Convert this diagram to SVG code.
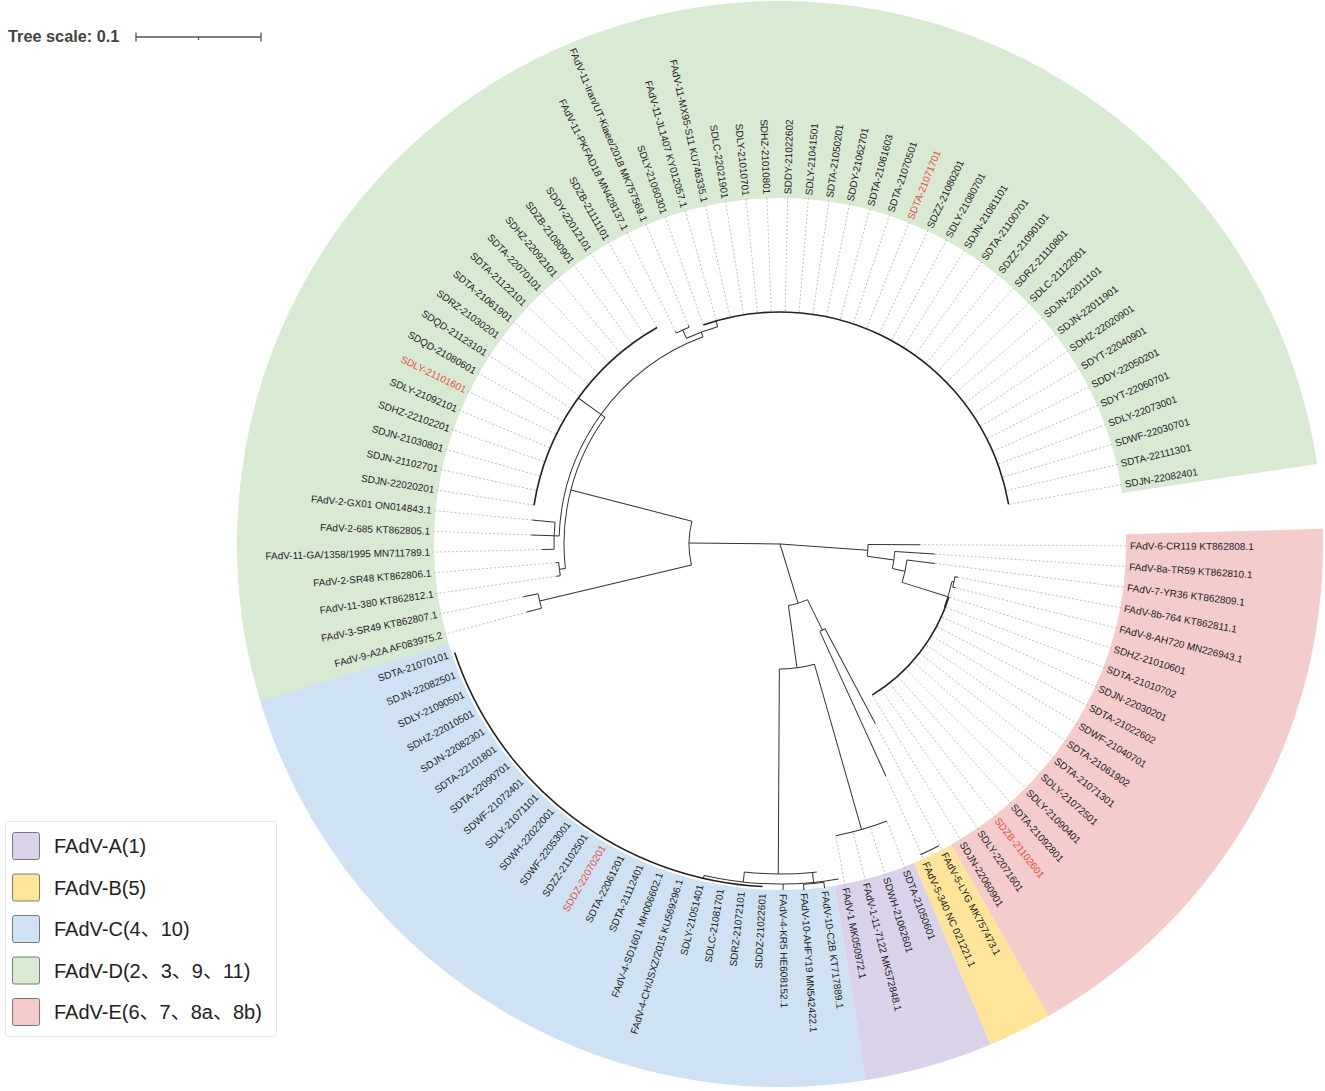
<svg xmlns="http://www.w3.org/2000/svg" width="1325" height="1091" viewBox="0 0 1325 1091">
<style>
text{font-family:"Liberation Sans",Arial,"Noto Sans CJK SC",sans-serif;}
.t{font-size:10px;fill:#222;}
.f{text-anchor:end;}
.red{fill:#e84b3c;}
.rg{fill:none;stroke-width:197;}
#branches line,#branches circle{stroke:#333;stroke-width:1;fill:none;}
#branches .cb{stroke:#222;stroke-width:1.6;}
#dashes line{stroke:#b4b4b4;stroke-width:0.8;stroke-dasharray:2 2;}
.lg{font-size:20px;fill:#222;}
.sw{stroke:#7a7a7a;stroke-width:1;}
</style>
<rect width="1325" height="1091" fill="#fff"/>
<g id="scale">
<text x="8" y="42" font-size="16.3" font-weight="bold" fill="#444">Tree scale: 0.1</text>
<path d="M136 37H261M136 32.5V41.5M261 32.5V41.5M198.5 37V40" stroke="#555" stroke-width="1.3" fill="none"/>
</g>
<g transform="translate(780,544)">
<g id="ranges">
<circle class="rg" r="444.5" stroke="#f4cccc" stroke-dasharray="480.6 3000" transform="rotate(-1.6)"/>
<circle class="rg" r="444.5" stroke="#ffe599" stroke-dasharray="53.3 3000" transform="rotate(60.35)"/>
<circle class="rg" r="444.5" stroke="#d9d2e9" stroke-dasharray="106.4 3000" transform="rotate(67.2)"/>
<circle class="rg" r="444.5" stroke="#cfe2f3" stroke-dasharray="638.6 3000" transform="rotate(80.9)"/>
<circle class="rg" r="444.5" stroke="#d9ead3" stroke-dasharray="1460.8 3000" transform="rotate(163.2)"/>
</g>
<g id="connectors">
<g id="dashes">
<line x1="140" x2="348" transform="rotate(0.3)"/>
<line x1="155" x2="348" transform="rotate(3.73)"/>
<line x1="156" x2="348" transform="rotate(7.16)"/>
<line x1="181" x2="348" transform="rotate(10.59)"/>
<line x1="181" x2="348" transform="rotate(14.02)"/>
<line x1="178" x2="348" transform="rotate(17.45)"/>
<line x1="178" x2="348" transform="rotate(20.88)"/>
<line x1="178" x2="348" transform="rotate(24.31)"/>
<line x1="178" x2="348" transform="rotate(27.74)"/>
<line x1="178" x2="348" transform="rotate(31.17)"/>
<line x1="178" x2="348" transform="rotate(34.6)"/>
<line x1="178" x2="348" transform="rotate(38.03)"/>
<line x1="178" x2="348" transform="rotate(41.46)"/>
<line x1="178" x2="348" transform="rotate(44.89)"/>
<line x1="178" x2="348" transform="rotate(48.32)"/>
<line x1="178" x2="348" transform="rotate(51.75)"/>
<line x1="178" x2="348" transform="rotate(55.18)"/>
<line x1="178" x2="348" transform="rotate(58.61)"/>
<line x1="203" x2="348" transform="rotate(62.04)"/>
<line x1="255" x2="348" transform="rotate(65.47)"/>
<line x1="298" x2="348" transform="rotate(68.9)"/>
<line x1="298" x2="348" transform="rotate(72.33)"/>
<line x1="298" x2="348" transform="rotate(75.76)"/>
<line x1="298" x2="348" transform="rotate(79.19)"/>
<line x1="262" x2="348" transform="rotate(164.94)"/>
<line x1="262" x2="348" transform="rotate(168.37)"/>
<line x1="226" x2="348" transform="rotate(171.8)"/>
<line x1="225" x2="348" transform="rotate(175.23)"/>
<line x1="238" x2="348" transform="rotate(178.66)"/>
<line x1="249" x2="348" transform="rotate(182.09)"/>
<line x1="249" x2="348" transform="rotate(185.52)"/>
<line x1="250" x2="348" transform="rotate(188.95)"/>
<line x1="250" x2="348" transform="rotate(192.38)"/>
<line x1="250" x2="348" transform="rotate(195.81)"/>
<line x1="250" x2="348" transform="rotate(199.24)"/>
<line x1="250" x2="348" transform="rotate(202.67)"/>
<line x1="250" x2="348" transform="rotate(206.1)"/>
<line x1="250" x2="348" transform="rotate(209.53)"/>
<line x1="250" x2="348" transform="rotate(212.96)"/>
<line x1="250" x2="348" transform="rotate(216.39)"/>
<line x1="250" x2="348" transform="rotate(219.82)"/>
<line x1="250" x2="348" transform="rotate(223.25)"/>
<line x1="250" x2="348" transform="rotate(226.68)"/>
<line x1="250" x2="348" transform="rotate(230.11)"/>
<line x1="250" x2="348" transform="rotate(233.54)"/>
<line x1="250" x2="348" transform="rotate(236.97)"/>
<line x1="250" x2="348" transform="rotate(240.4)"/>
<line x1="237" x2="348" transform="rotate(243.83)"/>
<line x1="237" x2="348" transform="rotate(247.26)"/>
<line x1="233" x2="348" transform="rotate(250.69)"/>
<line x1="233" x2="348" transform="rotate(254.12)"/>
<line x1="233" x2="348" transform="rotate(257.55)"/>
<line x1="233" x2="348" transform="rotate(260.98)"/>
<line x1="233" x2="348" transform="rotate(264.41)"/>
<line x1="233" x2="348" transform="rotate(267.84)"/>
<line x1="233" x2="348" transform="rotate(271.27)"/>
<line x1="233" x2="348" transform="rotate(274.7)"/>
<line x1="233" x2="348" transform="rotate(278.13)"/>
<line x1="233" x2="348" transform="rotate(281.56)"/>
<line x1="233" x2="348" transform="rotate(284.99)"/>
<line x1="233" x2="348" transform="rotate(288.42)"/>
<line x1="233" x2="348" transform="rotate(291.85)"/>
<line x1="233" x2="348" transform="rotate(295.28)"/>
<line x1="233" x2="348" transform="rotate(298.71)"/>
<line x1="233" x2="348" transform="rotate(302.14)"/>
<line x1="233" x2="348" transform="rotate(305.57)"/>
<line x1="233" x2="348" transform="rotate(309)"/>
<line x1="233" x2="348" transform="rotate(312.43)"/>
<line x1="233" x2="348" transform="rotate(315.86)"/>
<line x1="233" x2="348" transform="rotate(319.29)"/>
<line x1="233" x2="348" transform="rotate(322.72)"/>
<line x1="233" x2="348" transform="rotate(326.15)"/>
<line x1="233" x2="348" transform="rotate(329.58)"/>
<line x1="233" x2="348" transform="rotate(333.01)"/>
<line x1="233" x2="348" transform="rotate(336.44)"/>
<line x1="233" x2="348" transform="rotate(339.87)"/>
<line x1="233" x2="348" transform="rotate(343.3)"/>
<line x1="233" x2="348" transform="rotate(346.73)"/>
<line x1="233" x2="348" transform="rotate(350.16)"/>
</g>
<g id="branches">
<line x2="88" transform="rotate(4.15)"/>
<line x2="62" transform="rotate(73)"/>
<line x2="91" transform="rotate(180.6)"/>
<circle r="88" stroke-dasharray="11.83 2000" transform="rotate(0.3)"/>
<line x1="88" x2="140" transform="rotate(0.3)"/>
<line x1="88" x2="115" transform="rotate(8)"/>
<circle r="115" stroke-dasharray="17.2 2000" transform="rotate(3.73)"/>
<line x1="115" x2="155" transform="rotate(3.73)"/>
<line x1="115" x2="128" transform="rotate(12.3)"/>
<circle r="128" stroke-dasharray="22.97 2000" transform="rotate(7.16)"/>
<line x1="128" x2="156" transform="rotate(7.16)"/>
<line x1="128" x2="176" transform="rotate(17.44)"/>
<circle r="176" stroke-dasharray="26.42 2000" transform="rotate(12.3)"/>
<line x1="176" x2="178" transform="rotate(12.3)"/>
<circle r="178" stroke-dasharray="10.66 2000" transform="rotate(10.59)"/>
<line x1="178" x2="181" transform="rotate(10.59)"/>
<line x1="178" x2="181" transform="rotate(14.02)"/>
<line x1="176" x2="177" transform="rotate(20.9)"/>
<circle class="cb" r="177" stroke-dasharray="127.15 2000" transform="rotate(17.45)"/>
<circle r="62" stroke-dasharray="19.95 2000" transform="rotate(63.76)"/>
<line x1="62" x2="96" transform="rotate(63.76)"/>
<circle r="96" stroke-dasharray="5.75 2000" transform="rotate(62.04)"/>
<line x1="96" x2="203" transform="rotate(62.04)"/>
<line x1="96" x2="255" transform="rotate(65.47)"/>
<line x1="62" x2="125" transform="rotate(82.2)"/>
<circle r="125" stroke-dasharray="35.45 2000" transform="rotate(74.05)"/>
<line x1="125" x2="297" transform="rotate(74.05)"/>
<circle r="297" stroke-dasharray="53.34 2000" transform="rotate(68.9)"/>
<line x1="125" x2="330" transform="rotate(90.3)"/>
<circle r="330" stroke-dasharray="68.31 2000" transform="rotate(84.34)"/>
<line x1="330" x2="341" transform="rotate(84.34)"/>
<circle r="341" stroke-dasharray="20.41 2000" transform="rotate(82.62)"/>
<line x1="341" x2="347" transform="rotate(82.62)"/>
<line x1="341" x2="347" transform="rotate(86.05)"/>
<line x1="330" x2="340" transform="rotate(96.2)"/>
<circle r="340" stroke-dasharray="79.64 2000" transform="rotate(89.48)"/>
<line x1="340" x2="346" transform="rotate(89.48)"/>
<line x1="340" x2="343" transform="rotate(102.9)"/>
<circle class="cb" r="343" stroke-dasharray="410.67 2000" transform="rotate(92.91)"/>
<circle r="91" stroke-dasharray="44.23 2000" transform="rotate(166.65)"/>
<line x1="91" x2="247" transform="rotate(166.65)"/>
<circle r="247" stroke-dasharray="14.79 2000" transform="rotate(164.94)"/>
<line x1="247" x2="262" transform="rotate(164.94)"/>
<line x1="247" x2="262" transform="rotate(168.37)"/>
<line x1="91" x2="216" transform="rotate(194.5)"/>
<circle r="216" stroke-dasharray="159.84 2000" transform="rotate(173.5)"/>
<line x1="216" x2="222" transform="rotate(173.5)"/>
<circle r="222" stroke-dasharray="13.29 2000" transform="rotate(171.8)"/>
<line x1="222" x2="226" transform="rotate(171.8)"/>
<line x1="222" x2="225" transform="rotate(175.23)"/>
<line x1="216" x2="221" transform="rotate(215.9)"/>
<circle r="221" stroke-dasharray="260.39 2000" transform="rotate(182.09)"/>
<line x1="221" x2="226" transform="rotate(182.09)"/>
<circle r="226" stroke-dasharray="27.06 2000" transform="rotate(178.66)"/>
<line x1="226" x2="238" transform="rotate(178.66)"/>
<line x1="226" x2="249" transform="rotate(182.09)"/>
<line x1="226" x2="249" transform="rotate(185.52)"/>
<line x1="221" x2="249" transform="rotate(215.9)"/>
<circle class="cb" r="249" stroke-dasharray="223.59 2000" transform="rotate(188.95)"/>
<line x1="221" x2="226" transform="rotate(249.6)"/>
<circle r="226" stroke-dasharray="33.33 2000" transform="rotate(245.55)"/>
<line x1="226" x2="235" transform="rotate(245.55)"/>
<circle r="235" stroke-dasharray="14.07 2000" transform="rotate(243.83)"/>
<line x1="235" x2="237" transform="rotate(243.83)"/>
<line x1="235" x2="237" transform="rotate(247.26)"/>
<line x1="226" x2="232" transform="rotate(254)"/>
<circle class="cb" r="232" stroke-dasharray="402.76 2000" transform="rotate(250.69)"/>
</g>
</g>
<g id="labels">
<g id="n1"><text class="t" x="350" dy="3.5" transform="rotate(0.3)">FAdV-6-CR119 KT862808.1</text></g>
<g id="n2"><text class="t" x="350" dy="3.5" transform="rotate(3.73)">FAdV-8a-TR59 KT862810.1</text></g>
<g id="n3"><text class="t" x="350" dy="3.5" transform="rotate(7.16)">FAdV-7-YR36 KT862809.1</text></g>
<g id="n4"><text class="t" x="350" dy="3.5" transform="rotate(10.59)">FAdV-8b-764 KT862811.1</text></g>
<g id="n5"><text class="t" x="350" dy="3.5" transform="rotate(14.02)">FAdV-8-AH720 MN226943.1</text></g>
<g id="n6"><text class="t" x="350" dy="3.5" transform="rotate(17.45)">SDHZ-21010601</text></g>
<g id="n7"><text class="t" x="350" dy="3.5" transform="rotate(20.88)">SDTA-21010702</text></g>
<g id="n8"><text class="t" x="350" dy="3.5" transform="rotate(24.31)">SDJN-22030201</text></g>
<g id="n9"><text class="t" x="350" dy="3.5" transform="rotate(27.74)">SDTA-21022602</text></g>
<g id="n10"><text class="t" x="350" dy="3.5" transform="rotate(31.17)">SDWF-21040701</text></g>
<g id="n11"><text class="t" x="350" dy="3.5" transform="rotate(34.6)">SDTA-21061902</text></g>
<g id="n12"><text class="t" x="350" dy="3.5" transform="rotate(38.03)">SDTA-21071301</text></g>
<g id="n13"><text class="t" x="350" dy="3.5" transform="rotate(41.46)">SDLY-21072501</text></g>
<g id="n14"><text class="t" x="350" dy="3.5" transform="rotate(44.89)">SDLY-21090401</text></g>
<g id="n15"><text class="t" x="350" dy="3.5" transform="rotate(48.32)">SDTA-21092801</text></g>
<g id="n16"><text class="t red" x="350" dy="3.5" transform="rotate(51.75)">SDZB-21102601</text></g>
<g id="n17"><text class="t" x="350" dy="3.5" transform="rotate(55.18)">SDLY-22071601</text></g>
<g id="n18"><text class="t" x="350" dy="3.5" transform="rotate(58.61)">SDJN-22060901</text></g>
<g id="n19"><text class="t" x="350" dy="3.5" transform="rotate(62.04)">FAdV-5-LYG MK757473.1</text></g>
<g id="n20"><text class="t" x="350" dy="3.5" transform="rotate(65.47)">FAdV-5-340 NC 021221.1</text></g>
<g id="n21"><text class="t" x="350" dy="3.5" transform="rotate(68.9)">SDTA-21050601</text></g>
<g id="n22"><text class="t" x="350" dy="3.5" transform="rotate(72.33)">SDWH-21062601</text></g>
<g id="n23"><text class="t" x="350" dy="3.5" transform="rotate(75.76)">FAdV-1-11-7122 MK572848.1</text></g>
<g id="n24"><text class="t" x="350" dy="3.5" transform="rotate(79.19)">FAdV-1 MK050972.1</text></g>
<g id="n25"><text class="t" x="350" dy="3.5" transform="rotate(82.62)">FAdV-10-C2B KT717889.1</text></g>
<g id="n26"><text class="t" x="350" dy="3.5" transform="rotate(86.05)">FAdV-10-AHFY19 MN542422.1</text></g>
<g id="n27"><text class="t" x="350" dy="3.5" transform="rotate(89.48)">FAdV-4-KR5 HE608152.1</text></g>
<g id="n28"><text class="t f" x="-350" dy="3.5" transform="rotate(-87.09)">SDDZ-21022601</text></g>
<g id="n29"><text class="t f" x="-350" dy="3.5" transform="rotate(-83.66)">SDRZ-21072101</text></g>
<g id="n30"><text class="t f" x="-350" dy="3.5" transform="rotate(-80.23)">SDLC-21081701</text></g>
<g id="n31"><text class="t f" x="-350" dy="3.5" transform="rotate(-76.8)">SDLY-21051401</text></g>
<g id="n32"><text class="t f" x="-350" dy="3.5" transform="rotate(-73.37)">FAdV-4-CH/JSXZ/2015 KU569296.1</text></g>
<g id="n33"><text class="t f" x="-350" dy="3.5" transform="rotate(-69.94)">FAdV-4-SD1601 MH006602.1</text></g>
<g id="n34"><text class="t f" x="-350" dy="3.5" transform="rotate(-66.51)">SDTA-21112401</text></g>
<g id="n35"><text class="t f" x="-350" dy="3.5" transform="rotate(-63.08)">SDTA-22061201</text></g>
<g id="n36"><text class="t f red" x="-350" dy="3.5" transform="rotate(-59.65)">SDDZ-22070201</text></g>
<g id="n37"><text class="t f" x="-350" dy="3.5" transform="rotate(-56.22)">SDZZ-21102501</text></g>
<g id="n38"><text class="t f" x="-350" dy="3.5" transform="rotate(-52.79)">SDWF-22053001</text></g>
<g id="n39"><text class="t f" x="-350" dy="3.5" transform="rotate(-49.36)">SDWH-22022001</text></g>
<g id="n40"><text class="t f" x="-350" dy="3.5" transform="rotate(-45.93)">SDLY-21071101</text></g>
<g id="n41"><text class="t f" x="-350" dy="3.5" transform="rotate(-42.5)">SDWF-21072401</text></g>
<g id="n42"><text class="t f" x="-350" dy="3.5" transform="rotate(-39.07)">SDTA-22090701</text></g>
<g id="n43"><text class="t f" x="-350" dy="3.5" transform="rotate(-35.64)">SDTA-22101801</text></g>
<g id="n44"><text class="t f" x="-350" dy="3.5" transform="rotate(-32.21)">SDJN-22082301</text></g>
<g id="n45"><text class="t f" x="-350" dy="3.5" transform="rotate(-28.78)">SDHZ-22010501</text></g>
<g id="n46"><text class="t f" x="-350" dy="3.5" transform="rotate(-25.35)">SDLY-21090501</text></g>
<g id="n47"><text class="t f" x="-350" dy="3.5" transform="rotate(-21.92)">SDJN-22082501</text></g>
<g id="n48"><text class="t f" x="-350" dy="3.5" transform="rotate(-18.49)">SDTA-21070101</text></g>
<g id="n49"><text class="t f" x="-350" dy="3.5" transform="rotate(-15.06)">FAdV-9-A2A AF083975.2</text></g>
<g id="n50"><text class="t f" x="-350" dy="3.5" transform="rotate(-11.63)">FAdV-3-SR49 KT862807.1</text></g>
<g id="n51"><text class="t f" x="-350" dy="3.5" transform="rotate(-8.2)">FAdV-11-380 KT862812.1</text></g>
<g id="n52"><text class="t f" x="-350" dy="3.5" transform="rotate(-4.77)">FAdV-2-SR48 KT862806.1</text></g>
<g id="n53"><text class="t f" x="-350" dy="3.5" transform="rotate(-1.34)">FAdV-11-GA/1358/1995 MN711789.1</text></g>
<g id="n54"><text class="t f" x="-350" dy="3.5" transform="rotate(2.09)">FAdV-2-685 KT862805.1</text></g>
<g id="n55"><text class="t f" x="-350" dy="3.5" transform="rotate(5.52)">FAdV-2-GX01 ON014843.1</text></g>
<g id="n56"><text class="t f" x="-350" dy="3.5" transform="rotate(8.95)">SDJN-22020201</text></g>
<g id="n57"><text class="t f" x="-350" dy="3.5" transform="rotate(12.38)">SDJN-21102701</text></g>
<g id="n58"><text class="t f" x="-350" dy="3.5" transform="rotate(15.81)">SDJN-21030801</text></g>
<g id="n59"><text class="t f" x="-350" dy="3.5" transform="rotate(19.24)">SDHZ-22102201</text></g>
<g id="n60"><text class="t f" x="-350" dy="3.5" transform="rotate(22.67)">SDLY-21092101</text></g>
<g id="n61"><text class="t f red" x="-350" dy="3.5" transform="rotate(26.1)">SDLY-21101601</text></g>
<g id="n62"><text class="t f" x="-350" dy="3.5" transform="rotate(29.53)">SDQD-21080601</text></g>
<g id="n63"><text class="t f" x="-350" dy="3.5" transform="rotate(32.96)">SDQD-21123101</text></g>
<g id="n64"><text class="t f" x="-350" dy="3.5" transform="rotate(36.39)">SDRZ-21030201</text></g>
<g id="n65"><text class="t f" x="-350" dy="3.5" transform="rotate(39.82)">SDTA-21061901</text></g>
<g id="n66"><text class="t f" x="-350" dy="3.5" transform="rotate(43.25)">SDTA-21122101</text></g>
<g id="n67"><text class="t f" x="-350" dy="3.5" transform="rotate(46.68)">SDTA-22070101</text></g>
<g id="n68"><text class="t f" x="-350" dy="3.5" transform="rotate(50.11)">SDHZ-22092101</text></g>
<g id="n69"><text class="t f" x="-350" dy="3.5" transform="rotate(53.54)">SDZB-21080901</text></g>
<g id="n70"><text class="t f" x="-350" dy="3.5" transform="rotate(56.97)">SDDY-22012101</text></g>
<g id="n71"><text class="t f" x="-350" dy="3.5" transform="rotate(60.4)">SDZB-21111101</text></g>
<g id="n72"><text class="t f" x="-350" dy="3.5" transform="rotate(63.83)">FAdV-11-PKFAD18 MN428137.1</text></g>
<g id="n73"><text class="t f" x="-350" dy="3.5" transform="rotate(67.26)">FAdV-11-Iran/UT-Kiaee/2018 MK757569.1</text></g>
<g id="n74"><text class="t f" x="-350" dy="3.5" transform="rotate(70.69)">SDLY-21060301</text></g>
<g id="n75"><text class="t f" x="-350" dy="3.5" transform="rotate(74.12)">FAdV-11-JL1407 KY012057.1</text></g>
<g id="n76"><text class="t f" x="-350" dy="3.5" transform="rotate(77.55)">FAdV-11-MX95-S11 KU746335.1</text></g>
<g id="n77"><text class="t f" x="-350" dy="3.5" transform="rotate(80.98)">SDLC-22021901</text></g>
<g id="n78"><text class="t f" x="-350" dy="3.5" transform="rotate(84.41)">SDLY-21010701</text></g>
<g id="n79"><text class="t f" x="-350" dy="3.5" transform="rotate(87.84)">SDHZ-21010801</text></g>
<g id="n80"><text class="t" x="350" dy="3.5" transform="rotate(271.27)">SDDY-21022602</text></g>
<g id="n81"><text class="t" x="350" dy="3.5" transform="rotate(274.7)">SDLY-21041501</text></g>
<g id="n82"><text class="t" x="350" dy="3.5" transform="rotate(278.13)">SDTA-21050201</text></g>
<g id="n83"><text class="t" x="350" dy="3.5" transform="rotate(281.56)">SDDY-21062701</text></g>
<g id="n84"><text class="t" x="350" dy="3.5" transform="rotate(284.99)">SDTA-21061603</text></g>
<g id="n85"><text class="t" x="350" dy="3.5" transform="rotate(288.42)">SDTA-21070501</text></g>
<g id="n86"><text class="t red" x="350" dy="3.5" transform="rotate(291.85)">SDTA-21071701</text></g>
<g id="n87"><text class="t" x="350" dy="3.5" transform="rotate(295.28)">SDZZ-21080201</text></g>
<g id="n88"><text class="t" x="350" dy="3.5" transform="rotate(298.71)">SDLY-21080701</text></g>
<g id="n89"><text class="t" x="350" dy="3.5" transform="rotate(302.14)">SDJN-21081101</text></g>
<g id="n90"><text class="t" x="350" dy="3.5" transform="rotate(305.57)">SDTA-21100701</text></g>
<g id="n91"><text class="t" x="350" dy="3.5" transform="rotate(309)">SDZZ-21090101</text></g>
<g id="n92"><text class="t" x="350" dy="3.5" transform="rotate(312.43)">SDRZ-21110801</text></g>
<g id="n93"><text class="t" x="350" dy="3.5" transform="rotate(315.86)">SDLC-21122001</text></g>
<g id="n94"><text class="t" x="350" dy="3.5" transform="rotate(319.29)">SDJN-22011101</text></g>
<g id="n95"><text class="t" x="350" dy="3.5" transform="rotate(322.72)">SDJN-22011901</text></g>
<g id="n96"><text class="t" x="350" dy="3.5" transform="rotate(326.15)">SDHZ-22020901</text></g>
<g id="n97"><text class="t" x="350" dy="3.5" transform="rotate(329.58)">SDYT-22040901</text></g>
<g id="n98"><text class="t" x="350" dy="3.5" transform="rotate(333.01)">SDDY-22050201</text></g>
<g id="n99"><text class="t" x="350" dy="3.5" transform="rotate(336.44)">SDYT-22060701</text></g>
<g id="n100"><text class="t" x="350" dy="3.5" transform="rotate(339.87)">SDLY-22073001</text></g>
<g id="n101"><text class="t" x="350" dy="3.5" transform="rotate(343.3)">SDWF-22030701</text></g>
<g id="n102"><text class="t" x="350" dy="3.5" transform="rotate(346.73)">SDTA-22111301</text></g>
<g id="n103"><text class="t" x="350" dy="3.5" transform="rotate(350.16)">SDJN-22082401</text></g>
</g>
</g>
<g id="legend">
<rect x="5.5" y="821.5" width="271" height="215" rx="3" fill="#fff" stroke="#e6e6e6"/>
<g id="leg-A"><rect class="sw" x="12.5" y="832.5" width="27" height="27" rx="2" fill="#d9d2e9"/><text class="lg" x="54" y="853">FAdV-A(1)</text></g>
<g id="leg-B"><rect class="sw" x="12.5" y="874" width="27" height="27" rx="2" fill="#ffe599"/><text class="lg" x="54" y="894.5">FAdV-B(5)</text></g>
<g id="leg-C"><rect class="sw" x="12.5" y="915.5" width="27" height="27" rx="2" fill="#cfe2f3"/><text class="lg" x="54" y="936">FAdV-C(4、10)</text></g>
<g id="leg-D"><rect class="sw" x="12.5" y="957" width="27" height="27" rx="2" fill="#d9ead3"/><text class="lg" x="54" y="977.5">FAdV-D(2、3、9、11)</text></g>
<g id="leg-E"><rect class="sw" x="12.5" y="998.5" width="27" height="27" rx="2" fill="#f4cccc"/><text class="lg" x="54" y="1019">FAdV-E(6、7、8a、8b)</text></g>
</g>
</svg>
